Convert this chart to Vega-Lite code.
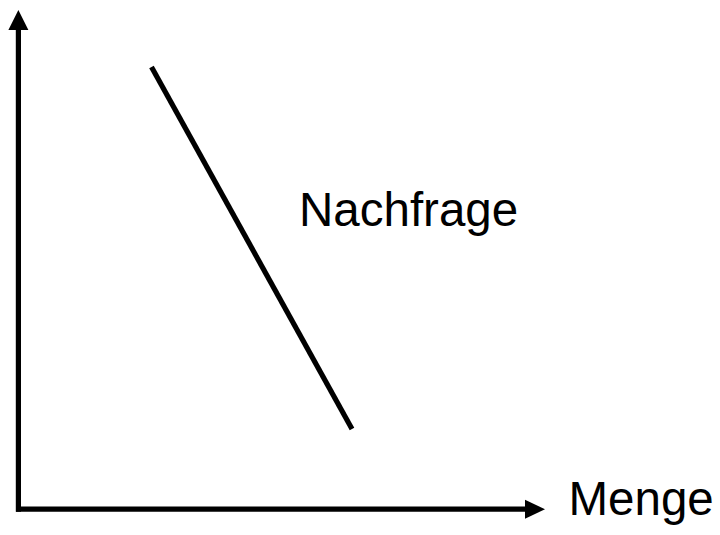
{
  "$schema": "https://vega.github.io/schema/vega-lite/v6.json",
  "width": 720,
  "height": 535,
  "padding": 0,
  "autosize": {"type": "none"},
  "background": "white",
  "config": {"view": {"stroke": null}},
  "datasets": {
    "lines": [
      {"name": "Preisachse", "x1": 18.4, "y1": 23.3, "x2": 18.4, "y2": 505},
      {"name": "Mengenachse", "x1": 16, "y1": 25.8, "x2": 526, "y2": 25.8},
      {"name": "Nachfrage", "x1": 151.5, "y1": 468, "x2": 352, "y2": 106}
    ],
    "heads": [
      {"dir": "up", "x": 18.4, "y": 515},
      {"dir": "right", "x": 535, "y": 25.8}
    ],
    "labels": [
      {"text": "Nachfrage", "x": 299, "y": 309},
      {"text": "Menge", "x": 568.5, "y": 20}
    ]
  },
  "layer": [
    {
      "data": {"name": "lines"},
      "mark": {"type": "rule", "color": "black", "strokeWidth": 5.2, "strokeCap": "butt"},
      "encoding": {
        "x": {"field": "x1", "type": "quantitative", "scale": {"domain": [0, 720], "nice": false, "zero": false}, "axis": null},
        "y": {"field": "y1", "type": "quantitative", "scale": {"domain": [0, 535], "nice": false, "zero": false}, "axis": null},
        "x2": {"field": "x2"},
        "y2": {"field": "y2"}
      }
    },
    {
      "data": {"name": "heads"},
      "transform": [{"filter": "datum.dir === 'up'"}],
      "mark": {"type": "point", "shape": "M0,-1L1,1L-1,1Z", "size": 400, "filled": true, "color": "black", "opacity": 1},
      "encoding": {
        "x": {"field": "x", "type": "quantitative"},
        "y": {"field": "y", "type": "quantitative"}
      }
    },
    {
      "data": {"name": "heads"},
      "transform": [{"filter": "datum.dir === 'right'"}],
      "mark": {"type": "point", "shape": "M1,0L-1,-0.95L-1,0.95Z", "size": 400, "filled": true, "color": "black", "opacity": 1},
      "encoding": {
        "x": {"field": "x", "type": "quantitative"},
        "y": {"field": "y", "type": "quantitative"}
      }
    },
    {
      "data": {"name": "labels"},
      "mark": {"type": "text", "font": "Liberation Sans", "fontSize": 47.5, "align": "left", "baseline": "alphabetic", "color": "black"},
      "encoding": {
        "x": {"field": "x", "type": "quantitative"},
        "y": {"field": "y", "type": "quantitative"},
        "text": {"field": "text"}
      }
    }
  ]
}
